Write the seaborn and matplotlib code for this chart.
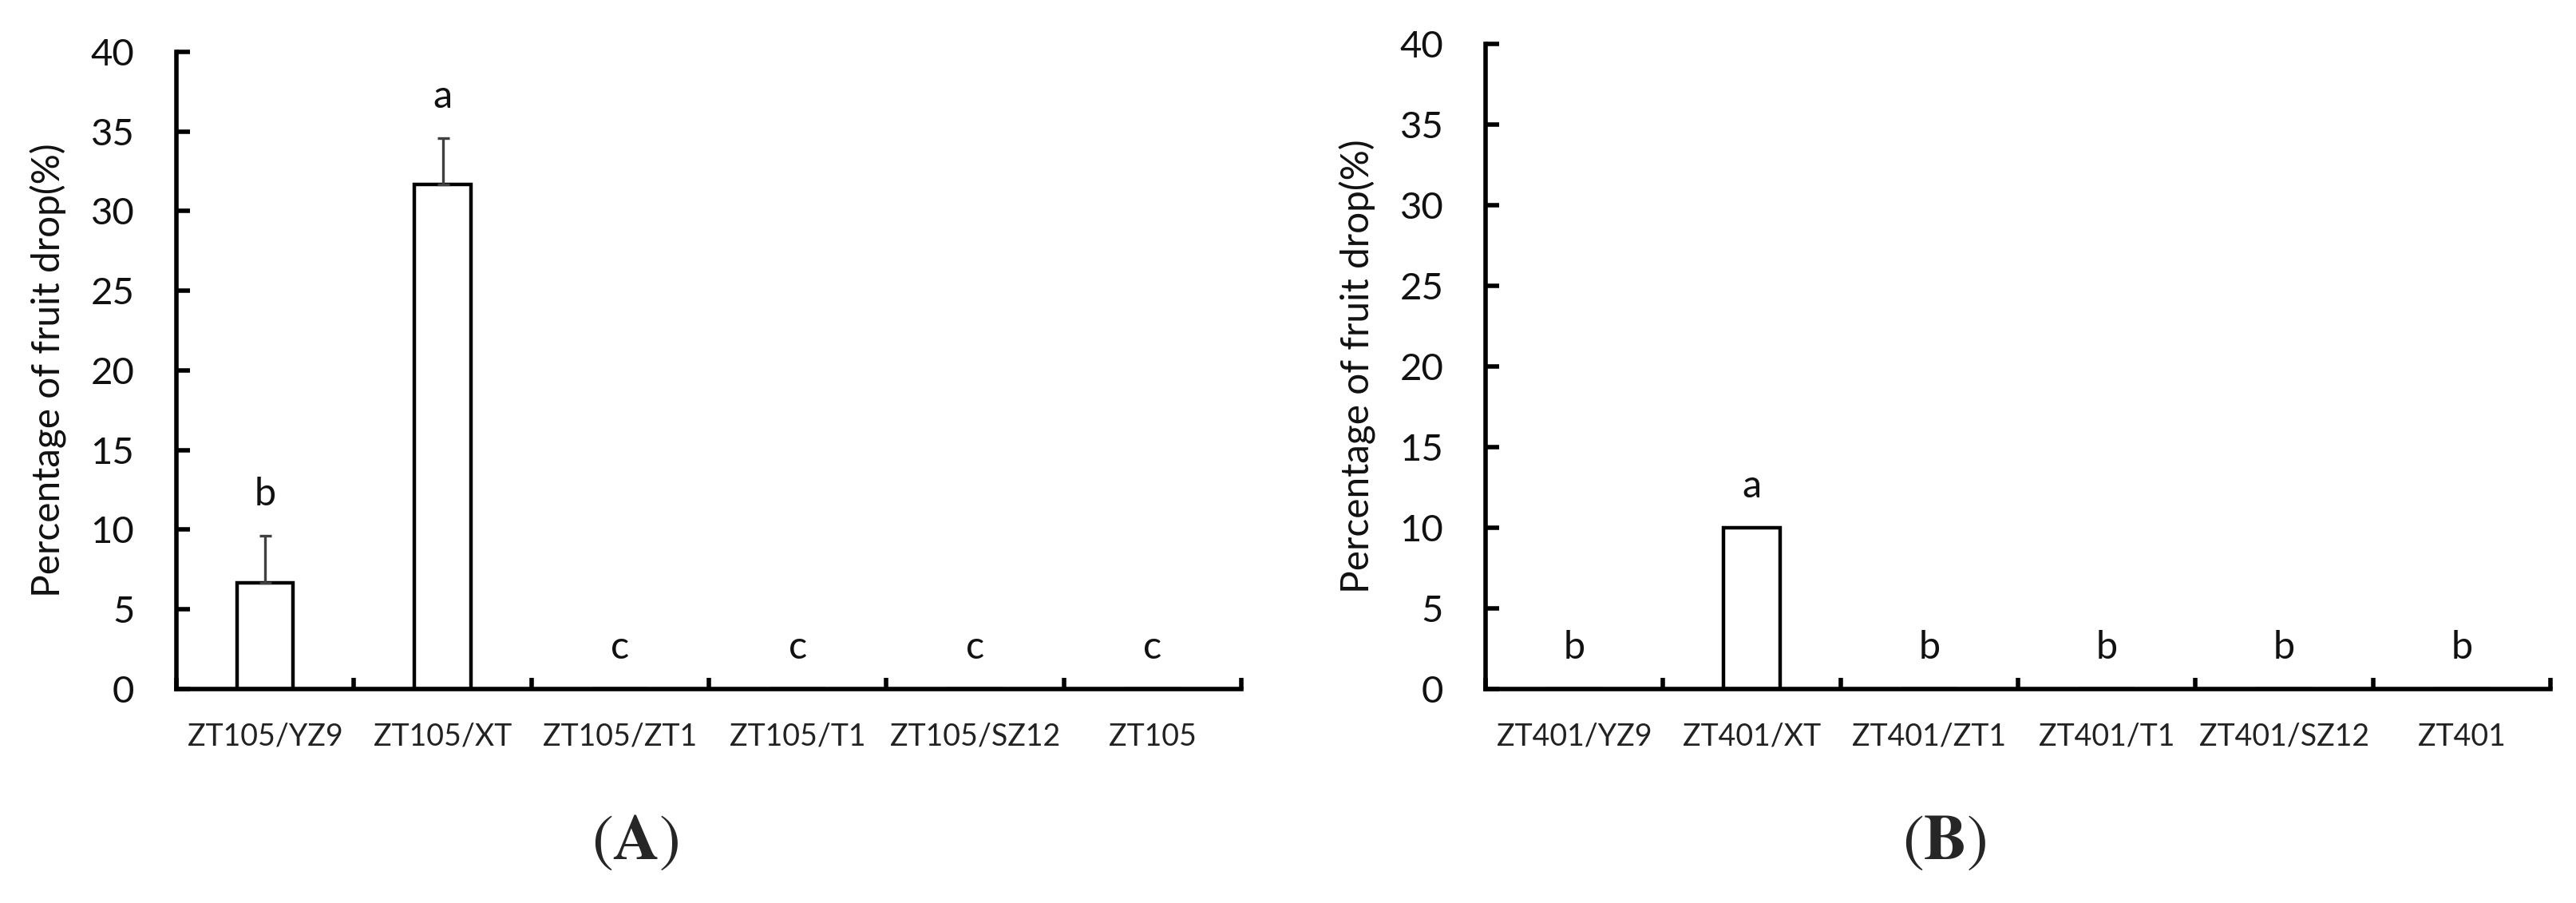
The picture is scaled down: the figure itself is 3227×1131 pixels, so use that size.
import numpy as np
import pandas as pd
import matplotlib
matplotlib.use('Agg')
import matplotlib.pyplot as plt
import seaborn as sns

# panel A - ZT105 combinations
groups_a = ['ZT105/YZ9', 'ZT105/XT', 'ZT105/ZT1', 'ZT105/T1', 'ZT105/SZ12', 'ZT105']
drop_a = [6.67, 31.67, 0, 0, 0, 0]
err_a = [2.95, 2.9, 0, 0, 0, 0]
letters_a = ['b', 'a', 'c', 'c', 'c', 'c']

# panel B - ZT401 combinations
groups_b = ['ZT401/YZ9', 'ZT401/XT', 'ZT401/ZT1', 'ZT401/T1', 'ZT401/SZ12', 'ZT401']
drop_b = [0, 10, 0, 0, 0, 0]
err_b = [0, 0, 0, 0, 0, 0]
letters_b = ['b', 'a', 'b', 'b', 'b', 'b']

yticks = [0, 5, 10, 15, 20, 25, 30, 35, 40]

sns.set_theme(style='white')
plt.rcParams['font.family'] = ['Lato', 'DejaVu Sans']

fig = plt.figure(figsize=(16.135, 5.655), dpi=200)
ax_a = fig.add_axes([0.0685, 0.237, 0.4134, 0.7056])
ax_b = fig.add_axes([0.5767, 0.237, 0.4134, 0.7144])


def draw_panel(ax, groups, vals, errs, letters, tag, tag_x):
    df = pd.DataFrame({'group': groups, 'drop': vals})
    sns.barplot(data=df, x='group', y='drop', ax=ax, color='white',
                edgecolor='black', linewidth=1.6, width=0.316,
                errorbar=None, saturation=1)
    pos = np.arange(len(groups))
    vals = np.array(vals)
    errs = np.array(errs)
    has_err = errs > 0
    if has_err.any():
        ax.errorbar(pos[has_err], vals[has_err],
                    yerr=[np.zeros(has_err.sum()), errs[has_err]],
                    fmt='none', ecolor='#404040', elinewidth=1.2,
                    capsize=2.7, capthick=1.2)
    for x, v, e, t in zip(pos, vals, errs, letters):
        ax.text(x, v + e + 1.5, t, ha='center', va='bottom', fontsize=17.5,
                color='#111111')

    ax.set_xlim(-0.5, 5.5)
    ax.set_ylim(0, 40)
    ax.set_yticks(yticks)
    ax.set_xticks(pos)
    ax.set_xticklabels(groups)
    ax.set_xticks(np.arange(-0.5, 6, 1), minor=True)
    ax.tick_params(axis='x', which='major', length=0, pad=15,
                   labelsize=13.5, labelcolor='#222222')
    ax.tick_params(axis='x', which='minor', bottom=True, direction='in',
                   length=5, width=2, color='black')
    ax.tick_params(axis='y', left=True, direction='in', length=6, width=2,
                   pad=19, labelsize=17, color='black', labelcolor='#111111')
    ax.set_xlabel('')
    ax.set_ylabel('Percentage of fruit drop(%)', fontsize=17.2, color='#111111')
    ax.yaxis.set_label_coords(-0.103, 0.5)
    for s in ['top', 'right']:
        ax.spines[s].set_visible(False)
    for s in ['left', 'bottom']:
        ax.spines[s].set_color('black')
        ax.spines[s].set_linewidth(2)

    fig.text(tag_x, 0.0672, r'$\left(\mathbf{' + tag + r'}\right)$',
             math_fontfamily='stix', fontsize=29, ha='center', va='center')


draw_panel(ax_a, groups_a, drop_a, err_a, letters_a, 'A', 0.2467)
draw_panel(ax_b, groups_b, drop_b, err_b, letters_b, 'B', 0.7549)

fig.savefig('out.png', dpi=200)
